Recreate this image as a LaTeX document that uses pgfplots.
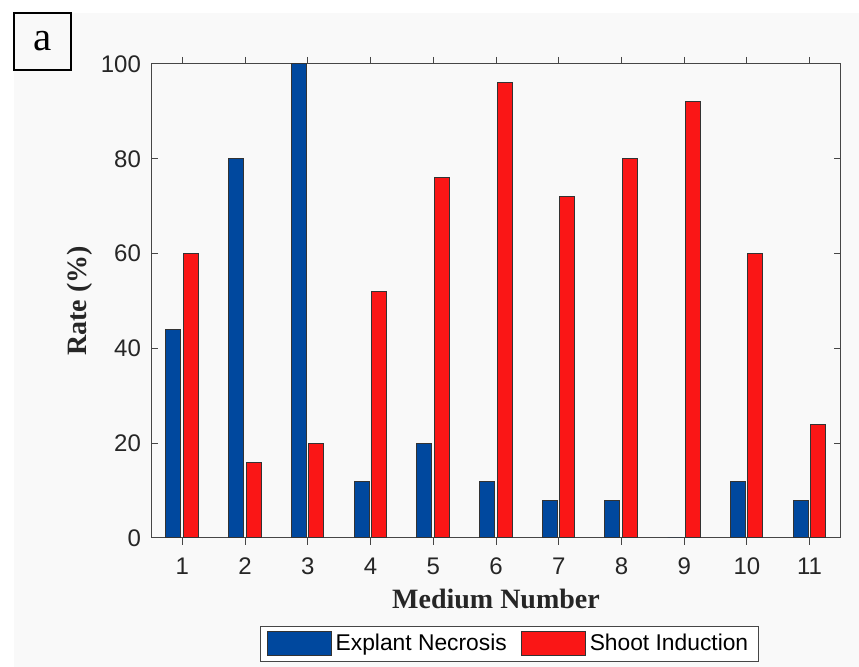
\documentclass[border=0pt]{standalone}
\usepackage{pgfplots}
\pgfplotsset{compat=1.18}
\usepackage{fontspec}
\setmainfont{Liberation Sans}
\newfontfamily\timesf{Liberation Serif}
\definecolor{bgc}{RGB}{249,249,249}
\definecolor{barblue}{RGB}{0,72,158}
\definecolor{barred}{RGB}{250,22,22}
\definecolor{axc}{RGB}{70,70,70}
\definecolor{txt}{RGB}{38,38,38}
\begin{document}
\begin{tikzpicture}
\path (0pt,0pt) rectangle (429.5pt,-333.5pt);
\fill[bgc] (7pt,-6.5pt) rectangle (429.5pt,-333.5pt);
\node[draw=black,line width=0.8pt,minimum width=28.5pt,minimum height=28.5pt,inner sep=0pt,font=\timesf\fontsize{20.5}{22}\selectfont] at (21.25pt,-20.75pt) {a};
\begin{axis}[
  at={(75.5pt,-269pt)}, anchor=south west,
  scale only axis, width=345pt, height=237pt,
  xmin=0.5, xmax=11.5, ymin=0, ymax=100,
  xtick={1,...,11}, ytick={0,20,...,100},
  tick align=inside, major tick length=3.5pt,
  axis line style={axc, line width=0.5pt},
  every tick/.style={axc, line width=0.5pt},
  /pgf/number format/assume math mode=true,
  tick label style={font=\fontsize{12}{14}\selectfont, text=txt},
  xticklabel style={yshift=-3pt},
  yticklabel style={xshift=-1.5pt},
  xlabel={Medium Number},
  ylabel={Rate (\%)},
  xlabel style={font=\timesf\bfseries\fontsize{14}{16}\selectfont, text=txt, at={(axis description cs:0.5,-0.1477)}, anchor=base},
  ylabel style={font=\timesf\bfseries\fontsize{14}{16}\selectfont, text=txt, at={(axis description cs:-0.0928,0.5)}, anchor=base},
  ybar, bar width=7.5pt,
  legend columns=2,
  legend style={at={(axis description cs:0.5195,-0.2236)}, anchor=center, draw=axc, line width=0.5pt, fill=white, font=\fontsize{11.4}{13}\selectfont, inner xsep=3pt, inner ysep=2pt, /tikz/every even column/.append style={column sep=5pt}},
  legend image code/.code={\draw[#1, line width=0.5pt] (0pt,-6pt) rectangle (32pt,6pt);},
]
\addplot[fill=barblue, draw=black!80, line width=0.5pt, bar shift=-4.5pt] coordinates {
(1,44) (2,80) (3,100) (4,12) (5,20) (6,12) (7,8) (8,8) (9,0) (10,12) (11,8)};
\addlegendentry{Explant Necrosis}
\addplot[fill=barred, draw=black!80, line width=0.5pt, bar shift=4.25pt] coordinates {
(1,60) (2,16) (3,20) (4,52) (5,76) (6,96) (7,72) (8,80) (9,92) (10,60) (11,24)};
\addlegendentry{Shoot Induction}
\end{axis}
\end{tikzpicture}
\end{document}
